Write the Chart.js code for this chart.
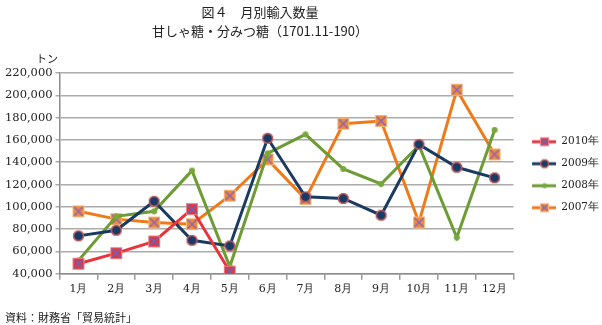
<!DOCTYPE html>
<html>
<head>
<meta charset="utf-8">
<script src="https://cdn.jsdelivr.net/npm/chart.js@4"></script>
<style>
    body { margin: 0; background: #fff; }
    #wrap { position: relative; width: 602px; height: 325px; overflow: hidden; font-family: "Noto Sans CJK JP", sans-serif; color: #222; }
    #chart { position: absolute; left: 0; top: 0; }
    .t1, .t2 { position: absolute; left: 110px; width: 300px; text-align: center; font-size: 13px; line-height: 16px; white-space: nowrap; }
    .t1 { top: 4px; }
    .t2 { top: 23px; }
    .unit { position: absolute; left: 36px; top: 50px; font-size: 11px; }
    .src { position: absolute; left: 5px; top: 309px; font-size: 11px; }
</style>
</head>
<body>
<div id="wrap">
    <canvas id="chart" width="612" height="325"></canvas>
    <div class="t1">図４　月別輸入数量</div>
    <div class="t2">甘しゃ糖・分みつ糖（1701.11-190）</div>
    <div class="unit">トン</div>
    <div class="src">資料：財務省「貿易統計」</div>
</div>
<script>
const months = ['1月', '2月', '3月', '4月', '5月', '6月', '7月', '8月', '9月', '10月', '11月', '12月'];
const y2010 = [49000, 58500, 69000, 98000, 42000];
const y2009 = [74000, 79000, 105000, 70000, 65000, 161500, 109000, 107500, 92500, 156000, 135500, 126000];
const y2008 = [52000, 91500, 96000, 132500, 46500, 148000, 165000, 134000, 120500, 155000, 72500, 169000];
const y2007 = [96000, 89000, 86000, 84500, 110000, 142500, 107000, 174500, 177000, 86000, 205000, 147000];
const seriesNames = ['2010年', '2009年', '2008年', '2007年'];

// マーカー画像を作る
function marker(kind, size) {
    const c = document.createElement('canvas');
    c.width = size + 2;
    c.height = size + 2;
    const g = c.getContext('2d');
    const m = (size + 2) / 2;
    const h = size / 2;
    if (kind === 'sqx') {
        g.fillStyle = arguments[2];
        g.strokeStyle = arguments[3];
        g.lineWidth = 1;
        g.fillRect(m - h, m - h, size, size);
        g.strokeRect(m - h + 0.5, m - h + 0.5, size - 1, size - 1);
        g.strokeStyle = arguments[4];
        g.lineWidth = 1.5;
        g.beginPath();
        g.moveTo(m - h + 1.5, m - h + 1.5); g.lineTo(m + h - 1.5, m + h - 1.5);
        g.moveTo(m + h - 1.5, m - h + 1.5); g.lineTo(m - h + 1.5, m + h - 1.5);
        g.stroke();
    } else {
        g.fillStyle = arguments[2];
        g.beginPath();
        g.arc(m, m, h, 0, Math.PI * 2);
        g.fill();
        if (arguments[3]) {
            g.strokeStyle = arguments[3];
            g.lineWidth = 1.2;
            g.beginPath();
            g.arc(m, m, h - 0.6, 0, Math.PI * 2);
            g.stroke();
        }
    }
    return c;
}

// 凡例用のアイコン（左に余白、線＋マーカー）
const ICON_W = 31, ICON_GAP = 7;
function legendIcon(color, mk) {
    const c = document.createElement('canvas');
    c.width = ICON_W;
    c.height = 12;
    const g = c.getContext('2d');
    const mid = ICON_GAP + (ICON_W - ICON_GAP) / 2;
    g.strokeStyle = color;
    g.lineWidth = 3;
    g.beginPath();
    g.moveTo(ICON_GAP, 6); g.lineTo(ICON_W, 6);
    g.stroke();
    g.drawImage(mk, Math.round(mid - mk.width / 2), 6 - mk.height / 2);
    return c;
}

const colors = ['#e8343c', '#1b3a62', '#6e9c34', '#f07a1a'];
const pts = [
    marker('sqx', 12, '#e8343c', '#f08080', '#5b6ac8'),
    marker('circle', 11, '#173a66', '#e0605a'),
    marker('circle', 6, '#78a83c'),
    marker('sqx', 12, '#f08a34', '#f6b878', '#8a64c0')
];
const legPts = [
    marker('sqx', 9, '#e8343c', '#f08080', '#5b6ac8'),
    marker('circle', 9, '#173a66', '#e0605a'),
    marker('circle', 5, '#78a83c'),
    marker('sqx', 9, '#f08a34', '#f6b878', '#8a64c0')
];
const icons = colors.map((c, i) => legendIcon(c, legPts[i]));

const datasets = [y2010, y2009, y2008, y2007].map((d, i) => ({
    label: seriesNames[i],
    data: d,
    borderColor: colors[i],
    backgroundColor: colors[i],
    borderWidth: 3,
    pointStyle: pts[i],
    tension: 0
}));

new Chart(document.getElementById('chart'), {
    type: 'line',
    data: { labels: months, datasets: datasets },
    options: {
        responsive: false,
        animation: false,
        layout: { padding: { top: 73, left: 2, right: 3, bottom: 26 } },
        plugins: {
            tooltip: { enabled: false },
            legend: {
                position: 'right',
                align: 'start',
                title: { display: true, text: ' ', font: { size: 10 }, padding: { top: 40, bottom: 0 } },
                labels: {
                    usePointStyle: true,
                    pointStyleWidth: ICON_W,
                    padding: 11.5,
                    color: '#222',
                    font: { family: 'DejaVu Serif', size: 10.5 },
                    generateLabels: (chart) => chart.data.datasets.map((ds, i) => ({
                        text: ds.label,
                        pointStyle: icons[i],
                        datasetIndex: i,
                        fillStyle: colors[i],
                        strokeStyle: colors[i],
                        lineWidth: 0,
                        fontColor: '#222'
                    }))
                }
            }
        },
        scales: {
            x: {
                offset: true,
                grid: { offset: true, drawOnChartArea: false, drawTicks: true, tickLength: 6, color: '#9a9a9a', lineWidth: 1.5 },
                border: { color: '#8c8c8c', width: 1.5 },
                ticks: { color: '#222', padding: 3, font: { family: 'DejaVu Serif', size: 11 } }
            },
            y: {
                min: 40000,
                max: 220000,
                ticks: {
                    stepSize: 20000,
                    color: '#222',
                    padding: 3,
                    font: { family: 'DejaVu Serif', size: 11.5 },
                    callback: (v) => v.toLocaleString('en-US')
                },
                grid: { color: '#ababab', lineWidth: 1.5, tickLength: 4 },
                border: { color: '#8c8c8c', width: 1.5 }
            }
        }
    }
});
</script>
</body>
</html>
